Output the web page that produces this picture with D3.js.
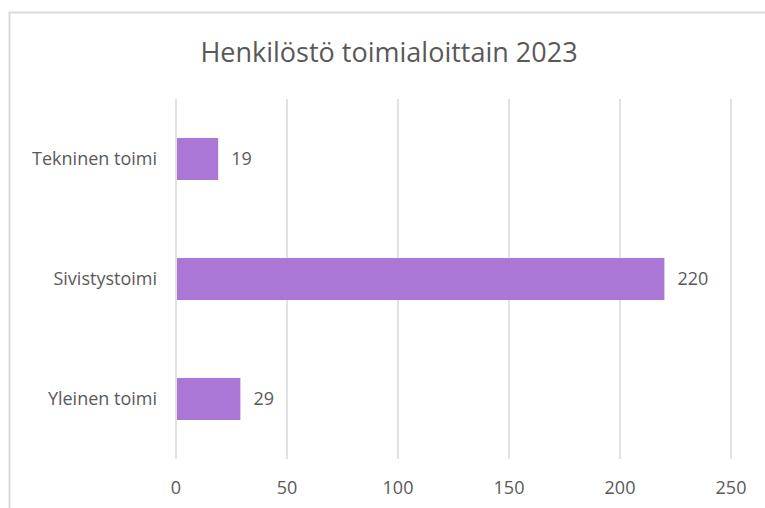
<!DOCTYPE html>
<html lang="fi">
<head>
  <meta charset="UTF-8">
  <title>Henkilöstö toimialoittain 2023</title>
  <style>
    body { margin: 0; background: #fff; }
    svg text { font-family: "Open Sans", "Noto Sans", sans-serif; fill: #595959; }
  </style>
</head>
<body>
<div id="chart"></div>
<script src="https://d3js.org/d3.v7.min.js"></script>
<script>
  const categories = ["Tekninen toimi", "Sivistystoimi", "Yleinen toimi"];
  const values = [19, 220, 29];
  const xTicks = [0, 50, 100, 150, 200, 250];
  const title = "Henkilöstö toimialoittain 2023";

  const width = 765, height = 508;
  const plot = { left: 176, right: 731, top: 99, bottom: 459 };

  const svg = d3.select("#chart").append("svg")
    .attr("width", width)
    .attr("height", height);

  // chart frame (runs off the right and bottom edges)
  svg.append("rect")
    .attr("x", 9.5).attr("y", 12.5)
    .attr("width", width + 20).attr("height", height + 20)
    .attr("fill", "none")
    .attr("stroke", "#d9d9d9")
    .attr("stroke-width", 2);

  const x = d3.scaleLinear()
    .domain([0, 250])
    .range([plot.left, plot.right]);

  const y = d3.scaleBand()
    .domain(categories)
    .range([plot.top, plot.bottom])
    .paddingInner(0.65)
    .paddingOuter(0.325);

  // vertical gridlines
  svg.append("g")
    .selectAll("line")
    .data(xTicks)
    .enter()
    .append("line")
    .attr("x1", d => x(d)).attr("x2", d => x(d))
    .attr("y1", plot.top).attr("y2", plot.bottom)
    .attr("stroke", "#d9d9d9")
    .attr("stroke-width", 1.5);

  // x tick labels
  svg.append("g")
    .selectAll("text")
    .data(xTicks)
    .enter()
    .append("text")
    .attr("x", d => x(d))
    .attr("y", 494)
    .attr("text-anchor", "middle")
    .style("font-size", "18px")
    .text(d => d);

  // bars
  svg.append("g")
    .selectAll("rect")
    .data(values)
    .enter()
    .append("rect")
    .attr("x", x(0) + 1)
    .attr("y", (d, i) => y(categories[i]))
    .attr("width", d => x(d) - x(0) - 1)
    .attr("height", y.bandwidth())
    .attr("fill", "#ab77d6");

  // value labels
  svg.append("g")
    .selectAll("text")
    .data(values)
    .enter()
    .append("text")
    .attr("x", d => x(d) + 13)
    .attr("y", (d, i) => y(categories[i]) + y.bandwidth() / 2)
    .attr("dy", "0.35em")
    .style("font-size", "18px")
    .text(d => d);

  // category labels
  svg.append("g")
    .selectAll("text")
    .data(categories)
    .enter()
    .append("text")
    .attr("x", 157)
    .attr("y", d => y(d) + y.bandwidth() / 2)
    .attr("dy", "0.35em")
    .attr("text-anchor", "end")
    .style("font-size", "18px")
    .text(d => d);

  svg.append("text")
    .attr("x", 389)
    .attr("y", 62)
    .attr("text-anchor", "middle")
    .style("font-size", "27px")
    .text(title);
</script>
</body>
</html>
